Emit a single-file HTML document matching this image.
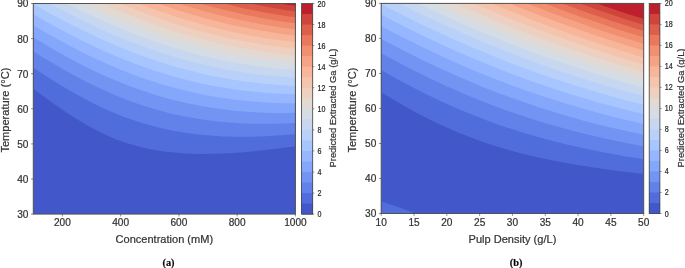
<!DOCTYPE html>
<html><head><meta charset="utf-8"><style>
html,body{margin:0;padding:0;background:#fff;}
body{width:685px;height:268px;overflow:hidden;}
svg{display:block;will-change:transform;}
text{font-family:"Liberation Sans", sans-serif;fill:#333333;stroke:#333333;stroke-width:0.22px;}
.tk{font-size:10.1px;}
.lab{font-size:11.3px;}
.ylab{font-size:11.4px;}
.cbt{font-size:8.4px;fill:#1a1a1a;}
.cbl{font-size:9.9px;}
.cap{font-family:"Liberation Serif",serif;font-weight:bold;font-size:10.3px;fill:#000;}
</style></head><body>
<svg width="685" height="268" viewBox="0 0 685 268">
<rect width="685" height="268" fill="#fff"/>
<clipPath id="ca"><rect x="33.3" y="3.5" width="262.10" height="210.60"/></clipPath>
<g clip-path="url(#ca)"><rect x="32.30" y="2.50" width="264.10" height="212.60" fill="#4257c9"/>
<path d="M33 2.5L296.4 2.5 296.4 146.1 278.5 148.6 261.3 150.6 244.8 152.2 229.5 153.2 214.3 153.8 200.4 153.9 193.8 153.8 187.2 153.5 181.2 153.2 174.6 152.6 168.7 152 163.4 151.4 158.1 150.6 152.1 149.6 146.8 148.5 141.5 147.3 136.9 146.1 131.6 144.6 126.3 142.9 121.7 141.3 116.4 139.4 111.7 137.5 107.1 135.4 101.8 133 96.5 130.3 91.2 127.5 85.3 124.2 78.6 120.2 71.4 115.7 64.1 110.9 56.1 105.4 48.8 100.2 40.9 94.4 32.3 87.9 32.3 2.5Z" fill="#516ddb"/>
<path d="M33 2.5L296.4 2.5 296.4 133.9 281.2 135.3 266 136.2 251.4 136.7 237.5 136.7 223.6 136.4 210.4 135.6 197.8 134.4 191.2 133.6 185.2 132.7 173.3 130.7 167.3 129.5 161.4 128.2 150.1 125.3 138.9 122 127.6 118.2 121.7 115.9 115.7 113.5 104.4 108.7 93.2 103.3 85.9 99.6 78.6 95.6 71.4 91.5 64.1 87.3 56.8 82.8 48.2 77.4 40.2 72.2 32.3 66.9 32.3 2.5Z" fill="#6282ea"/>
<path d="M33 2.5L296.4 2.5 296.4 122.9 282.5 123.6 269.3 123.8 256 123.8 242.8 123.4 230.2 122.6 217.6 121.4 205.7 120 193.8 118.1 182.6 116 170.6 113.4 158.7 110.3 147.5 107 136.9 103.5 125.6 99.4 114.4 94.9 102.5 89.6 93.9 85.6 85.3 81.3 76.6 76.8 68 72.1 59.4 67.2 50.8 62.1 42.2 56.9 32.3 50.6 32.3 2.5Z" fill="#7295f4"/>
<path d="M33 2.5L296.4 2.5 296.4 112.7 283.8 112.9 271.9 112.9 260 112.5 248.1 111.8 236.2 110.9 224.9 109.6 213.7 108.1 202.4 106.3 191.2 104.1 179.9 101.6 169.3 98.9 158.7 95.9 148.1 92.6 136.9 88.8 126.3 84.8 115.7 80.5 105.8 76.2 95.8 71.7 85.9 66.9 75.3 61.4 65.4 56.1 54.8 50.2 43.6 43.6 32.3 36.8 32.3 2.5Z" fill="#84a7fc"/>
<path d="M33 2.5L296.4 2.5 296.4 103.3 285.1 103.2 274.6 102.9 263.3 102.3 252.7 101.5 242.1 100.5 231.5 99.2 220.9 97.7 211 96.1 201.1 94.2 191.2 92 180.6 89.5 170.6 86.8 160.7 83.9 150.8 80.8 140.9 77.4 130.3 73.5 118.3 68.7 106.4 63.6 94.5 58.2 82.6 52.4 70.7 46.3 58.1 39.5 45.5 32.4 32.3 24.6 32.3 2.5Z" fill="#96b7ff"/>
<path d="M33 2.5L296.4 2.5 296.4 94.3 286.5 94.1 276.5 93.6 266.6 92.9 257.3 92.1 247.4 91.1 238.2 89.9 228.9 88.6 219.6 87.1 210.4 85.3 201.1 83.4 191.8 81.3 182.6 78.9 173.3 76.4 164.7 73.8 155.4 70.9 146.8 68 134.2 63.4 121 58.2 108.4 52.9 95.2 46.9 81.3 40.2 68 33.5 54.1 26 40.2 18.2 32.3 13.6 32.3 2.5Z" fill="#a7c5fe"/>
<path d="M33 2.5L296.4 2.5 296.4 85.9 287.8 85.5 279.2 85 270.6 84.3 262 83.5 254 82.6 245.4 81.5 236.8 80.3 228.9 79 220.3 77.5 212.3 75.9 204.4 74.2 195.8 72.1 187.8 70.1 179.9 68 171.3 65.5 163.4 63.1 154.8 60.3 146.8 57.5 138.2 54.4 129.6 51.1 121 47.6 112.4 44 103.8 40.3 95.2 36.3 84.6 31.3 74 26.1 63.4 20.6 52.8 14.9 42.9 9.4 32.3 3.4 32.3 2.5Z" fill="#b9d0f9"/>
<path d="M48.2 2.5L296.4 2.5 296.4 77.8 280.5 76.8 272.6 76.1 264.6 75.3 249.4 73.3 241.5 72.1 233.5 70.8 218.3 67.9 203.1 64.6 187.8 60.7 172.6 56.3 157.4 51.5 142.2 46.1 134.2 43.1 126.3 40 110.4 33.4 101.8 29.6 93.9 25.9 77.3 18 67.4 13 56.8 7.4 47.6 2.5Z" fill="#c7d7f0"/>
<path d="M64.7 2.5L296.4 2.5 296.4 70.1 281.8 69 267.3 67.5 252.7 65.5 238.2 63.2 223.6 60.4 209.7 57.4 195.8 53.9 181.2 49.9 166.7 45.4 152.8 40.8 138.2 35.5 124.3 30 109.1 23.6 94.5 17.1 78.6 9.5Z" fill="#d6dce4"/>
<path d="M82.6 2.5L296.4 2.5 296.4 62.8 282.5 61.5 269.3 60 255.4 58.1 242.1 55.9 228.9 53.4 215.6 50.5 202.4 47.3 189.2 43.7 175.3 39.6 162 35.4 148.8 30.8 134.9 25.6 120.3 19.7 105.8 13.5 96.5 9.3 86.6 4.7 82 2.5Z" fill="#e3d9d3"/>
<path d="M99.8 2.5L296.4 2.5 296.4 55.6 283.8 54.4 271.2 52.9 258.7 51.1 246.8 49.1 234.8 46.9 222.3 44.2 210.4 41.4 197.8 38.1 185.9 34.8 173.3 30.9 160.7 26.8 148.8 22.6 135.6 17.6 123 12.6 108.4 6.4 99.6 2.5Z" fill="#eed0c0"/>
<path d="M117.7 2.5L296.4 2.5 296.4 48.8 285.1 47.6 273.9 46.2 262.6 44.5 251.4 42.7 240.1 40.6 228.9 38.2 217.6 35.6 207 33 195.8 30 184.5 26.7 173.3 23.2 162 19.5 150.8 15.5 139.5 11.3 127.6 6.6Z" fill="#f5c4ac"/>
<path d="M136.2 2.5L296.4 2.5 296.4 42.1 285.8 40.9 275.9 39.6 266 38.2 256 36.5 246.1 34.7 236.2 32.7 226.2 30.5 216.3 28.1 206.4 25.6 196.5 22.8 186.5 19.9 176.6 16.9 166.7 13.6 156.1 9.9 145.5 6.1Z" fill="#f7b599"/>
<path d="M155.4 2.5L296.4 2.5 296.4 35.7 287.8 34.7 278.5 33.4 269.9 32.1 260.7 30.6 252.1 29 243.4 27.3 234.8 25.5 225.6 23.4 217 21.3 207.7 18.9 199.1 16.5 190.5 14 181.9 11.4 172.6 8.4 163.4 5.3Z" fill="#f6a385"/>
<path d="M175.9 2.5L296.4 2.5 296.4 29.5 281.2 27.4 266 25 250.7 22.2 235.5 19 220.3 15.4 204.4 11.2 195.8 8.8 187.2 6.2 175.5 2.5Z" fill="#f18f71"/>
<path d="M197.1 2.5L296.4 2.5 296.4 23.4 283.8 21.7 271.2 19.7 258.7 17.4 246.1 14.9 233.5 12.1 220.3 8.9 207 5.4 197.8 2.8 196.9 2.5Z" fill="#e9785d"/>
<path d="M220.3 2.5L296.4 2.5 296.4 17.4 287.1 16.2 277.2 14.6 267.3 12.9 257.3 11 246.8 8.9 236.8 6.7 224.3 3.6 219.8 2.5Z" fill="#dd5f4b"/>
<path d="M245.4 2.5L296.4 2.5 296.4 11.7 283.2 9.7 270.6 7.6 256.7 4.9Z" fill="#cf453c"/>
<path d="M274.6 2.5L296.4 2.5 296.4 6 284.5 4.2Z" fill="#bd1f2d"/></g>
<rect x="33.3" y="3.5" width="262.10" height="210.60" fill="none" stroke="#525252" stroke-width="1.0"/>
<line x1="31.00" y1="214.10" x2="33.30" y2="214.10" stroke="#444" stroke-width="0.6"/>
<text x="28.40" y="218.00" text-anchor="end" class="tk">30</text>
<line x1="31.00" y1="179.00" x2="33.30" y2="179.00" stroke="#444" stroke-width="0.6"/>
<text x="28.40" y="182.90" text-anchor="end" class="tk">40</text>
<line x1="31.00" y1="143.90" x2="33.30" y2="143.90" stroke="#444" stroke-width="0.6"/>
<text x="28.40" y="147.80" text-anchor="end" class="tk">50</text>
<line x1="31.00" y1="108.80" x2="33.30" y2="108.80" stroke="#444" stroke-width="0.6"/>
<text x="28.40" y="112.70" text-anchor="end" class="tk">60</text>
<line x1="31.00" y1="73.70" x2="33.30" y2="73.70" stroke="#444" stroke-width="0.6"/>
<text x="28.40" y="77.60" text-anchor="end" class="tk">70</text>
<line x1="31.00" y1="38.60" x2="33.30" y2="38.60" stroke="#444" stroke-width="0.6"/>
<text x="28.40" y="42.50" text-anchor="end" class="tk">80</text>
<line x1="31.00" y1="3.50" x2="33.30" y2="3.50" stroke="#444" stroke-width="0.6"/>
<text x="28.40" y="7.40" text-anchor="end" class="tk">90</text>
<line x1="62.42" y1="214.10" x2="62.42" y2="216.50" stroke="#444" stroke-width="0.6"/>
<text x="62.42" y="226.30" text-anchor="middle" class="tk">200</text>
<line x1="120.67" y1="214.10" x2="120.67" y2="216.50" stroke="#444" stroke-width="0.6"/>
<text x="120.67" y="226.30" text-anchor="middle" class="tk">400</text>
<line x1="178.91" y1="214.10" x2="178.91" y2="216.50" stroke="#444" stroke-width="0.6"/>
<text x="178.91" y="226.30" text-anchor="middle" class="tk">600</text>
<line x1="237.16" y1="214.10" x2="237.16" y2="216.50" stroke="#444" stroke-width="0.6"/>
<text x="237.16" y="226.30" text-anchor="middle" class="tk">800</text>
<line x1="295.40" y1="214.10" x2="295.40" y2="216.50" stroke="#444" stroke-width="0.6"/>
<text x="295.40" y="226.30" text-anchor="middle" class="tk">1000</text>
<text x="164.35" y="243.0" text-anchor="middle" class="lab" textLength="97.5" lengthAdjust="spacingAndGlyphs">Concentration (mM)</text>
<text transform="translate(8.50,110.1) rotate(-90)" x="0" y="0" text-anchor="middle" class="ylab" textLength="85" lengthAdjust="spacingAndGlyphs">Temperature (°C)</text>
<rect x="301.6" y="3.50" width="11.10" height="210.60" fill="#bd1f2d"/>
<rect x="301.6" y="14.03" width="11.10" height="200.07" fill="#cf453c"/>
<rect x="301.6" y="24.56" width="11.10" height="189.54" fill="#dd5f4b"/>
<rect x="301.6" y="35.09" width="11.10" height="179.01" fill="#e9785d"/>
<rect x="301.6" y="45.62" width="11.10" height="168.48" fill="#f18f71"/>
<rect x="301.6" y="56.15" width="11.10" height="157.95" fill="#f6a385"/>
<rect x="301.6" y="66.68" width="11.10" height="147.42" fill="#f7b599"/>
<rect x="301.6" y="77.21" width="11.10" height="136.89" fill="#f5c4ac"/>
<rect x="301.6" y="87.74" width="11.10" height="126.36" fill="#eed0c0"/>
<rect x="301.6" y="98.27" width="11.10" height="115.83" fill="#e3d9d3"/>
<rect x="301.6" y="108.80" width="11.10" height="105.30" fill="#d6dce4"/>
<rect x="301.6" y="119.33" width="11.10" height="94.77" fill="#c7d7f0"/>
<rect x="301.6" y="129.86" width="11.10" height="84.24" fill="#b9d0f9"/>
<rect x="301.6" y="140.39" width="11.10" height="73.71" fill="#a7c5fe"/>
<rect x="301.6" y="150.92" width="11.10" height="63.18" fill="#96b7ff"/>
<rect x="301.6" y="161.45" width="11.10" height="52.65" fill="#84a7fc"/>
<rect x="301.6" y="171.98" width="11.10" height="42.12" fill="#7295f4"/>
<rect x="301.6" y="182.51" width="11.10" height="31.59" fill="#6282ea"/>
<rect x="301.6" y="193.04" width="11.10" height="21.06" fill="#516ddb"/>
<rect x="301.6" y="203.57" width="11.10" height="10.53" fill="#4257c9"/>
<rect x="301.6" y="3.5" width="11.10" height="210.60" fill="none" stroke="#444" stroke-width="0.8"/>
<line x1="312.70" y1="214.10" x2="314.30" y2="214.10" stroke="#444" stroke-width="0.6"/>
<text transform="translate(317.50,217.10) scale(0.85,1)" class="cbt">0</text>
<line x1="312.70" y1="193.04" x2="314.30" y2="193.04" stroke="#444" stroke-width="0.6"/>
<text transform="translate(317.50,196.04) scale(0.85,1)" class="cbt">2</text>
<line x1="312.70" y1="171.98" x2="314.30" y2="171.98" stroke="#444" stroke-width="0.6"/>
<text transform="translate(317.50,174.98) scale(0.85,1)" class="cbt">4</text>
<line x1="312.70" y1="150.92" x2="314.30" y2="150.92" stroke="#444" stroke-width="0.6"/>
<text transform="translate(317.50,153.92) scale(0.85,1)" class="cbt">6</text>
<line x1="312.70" y1="129.86" x2="314.30" y2="129.86" stroke="#444" stroke-width="0.6"/>
<text transform="translate(317.50,132.86) scale(0.85,1)" class="cbt">8</text>
<line x1="312.70" y1="108.80" x2="314.30" y2="108.80" stroke="#444" stroke-width="0.6"/>
<text transform="translate(317.50,111.80) scale(0.85,1)" class="cbt">10</text>
<line x1="312.70" y1="87.74" x2="314.30" y2="87.74" stroke="#444" stroke-width="0.6"/>
<text transform="translate(317.50,90.74) scale(0.85,1)" class="cbt">12</text>
<line x1="312.70" y1="66.68" x2="314.30" y2="66.68" stroke="#444" stroke-width="0.6"/>
<text transform="translate(317.50,69.68) scale(0.85,1)" class="cbt">14</text>
<line x1="312.70" y1="45.62" x2="314.30" y2="45.62" stroke="#444" stroke-width="0.6"/>
<text transform="translate(317.50,48.62) scale(0.85,1)" class="cbt">16</text>
<line x1="312.70" y1="24.56" x2="314.30" y2="24.56" stroke="#444" stroke-width="0.6"/>
<text transform="translate(317.50,27.56) scale(0.85,1)" class="cbt">18</text>
<line x1="312.70" y1="3.50" x2="314.30" y2="3.50" stroke="#444" stroke-width="0.6"/>
<text transform="translate(317.50,6.50) scale(0.85,1)" class="cbt">20</text>
<text transform="translate(336.30,108.0) rotate(-90)" x="0" y="0" text-anchor="middle" class="cbl" textLength="119" lengthAdjust="spacingAndGlyphs">Predicted Extracted Ga (g/L)</text>
<text x="168.5" y="266.2" text-anchor="middle" class="cap">(a)</text>
<clipPath id="cb"><rect x="381.2" y="3.4" width="262.50" height="210.10"/></clipPath>
<g clip-path="url(#cb)"><rect x="380.20" y="2.40" width="264.50" height="212.10" fill="#4257c9"/>
<path d="M380.9 2.4L644.7 2.4 644.7 174 622.2 171.4 600.3 168.5 580.4 165.5 561.8 162.2 544.6 158.8 536 156.9 527.4 154.9 512.1 150.9 503.5 148.5 496.2 146.3 488.3 143.7 481 141.2 473.7 138.6 466.4 135.8 459.1 132.9 451.8 129.8 438.5 123.8 431.2 120.3 424.6 117 417.3 113.2 410 109.2 402.7 105.1 394.8 100.5 380.2 91.7 380.2 2.4ZM380.8 201.2L390.1 204.3 399.4 207.5 408.7 210.9 418 214.5 380.2 214.5 380.2 201Z" fill="#516ddb"/>
<path d="M380.9 2.4L644.7 2.4 644.7 159.4 624.8 156.2 605.6 152.8 587 149 569.1 145 552.6 141 535.3 136.3 519.4 131.5 503.5 126.4 488.3 121 473 115.1 457.1 108.5 442.5 102 427.9 95.1 412 87 396.1 78.5 380.2 69.6 380.2 2.4Z" fill="#6282ea"/>
<path d="M380.9 2.4L644.7 2.4 644.7 146.6 626.1 143 608.2 139.3 591 135.3 574.4 131.2 557.2 126.5 541.3 121.9 526 117.1 510.1 111.7 494.2 105.9 479 100 463.7 93.7 448.5 87 433.2 80 418 72.5 402.1 64.4 386.2 55.9 380.2 52.6 380.2 2.4Z" fill="#7295f4"/>
<path d="M380.9 2.4L644.7 2.4 644.7 134.9 628.8 131.6 612.9 127.9 598.3 124.4 583 120.4 568.5 116.3 553.2 111.8 538.6 107.2 524.1 102.3 509.5 97.1 495.5 91.9 481.6 86.4 467.7 80.6 453.8 74.6 439.2 68 425.3 61.4 411.4 54.5 396.1 46.7 380.2 38.2 380.2 2.4Z" fill="#84a7fc"/>
<path d="M380.9 2.4L644.7 2.4 644.7 124.3 630.8 121.1 617.5 117.9 604.3 114.5 591.7 111.1 578.4 107.3 565.8 103.6 553.2 99.6 540 95.3 527.4 91 514.8 86.4 502.8 82 490.2 77 477.6 71.9 466.4 67.2 453.8 61.7 441.2 56 425.9 48.8 410.7 41.3 396.1 33.9 380.2 25.5 380.2 2.4Z" fill="#96b7ff"/>
<path d="M380.9 2.4L644.7 2.4 644.7 114.4 622.8 109 611.6 106 600.3 102.9 589 99.7 578.4 96.5 567.1 93.1 556.5 89.7 545.3 85.9 535.3 82.5 524.7 78.7 514.1 74.8 503.5 70.7 492.9 66.6 472.3 58.1 461.1 53.2 449.1 47.9 437.9 42.8 426.6 37.4 415.3 32 403.4 26.1 391.5 20 380.2 14.1 380.2 2.4Z" fill="#a7c5fe"/>
<path d="M380.9 2.4L644.7 2.4 644.7 105 626.8 100.5 609.6 95.8 591.7 90.6 574.4 85.3 557.2 79.7 540 73.7 523.4 67.8 506.2 61.2 488.3 54.1 470.4 46.6 451.8 38.4 433.2 29.9 420.6 23.9 407.4 17.4 394.1 10.7 380.2 3.6 380.2 2.4Z" fill="#b9d0f9"/>
<path d="M397.4 2.4L644.7 2.4 644.7 96.2 628.1 91.8 612.2 87.4 596.3 82.7 581.1 78 565.8 73 550.6 67.8 535.3 62.4 519.4 56.5 504.2 50.6 488.9 44.4 473.7 38.1 457.8 31.1 441.9 24 425.3 16.2 405.4 6.5 397.1 2.4Z" fill="#c7d7f0"/>
<path d="M416 2.4L644.7 2.4 644.7 87.9 630.1 83.9 615.5 79.7 600.9 75.4 586.4 70.8 571.8 66.1 557.9 61.3 543.9 56.4 529.4 51.1 515.4 45.8 500.8 40 486.3 34.1 472.3 28.2 458.4 22.1 443.8 15.5 427.9 8.1Z" fill="#d6dce4"/>
<path d="M434.6 2.4L644.7 2.4 644.7 79.9 630.8 76 617.5 72.1 604.3 68.1 591 63.9 577.1 59.4 564.5 55.1 551.9 50.7 538.6 45.9 526 41.2 512.8 36 499.5 30.7 486.3 25.3 473.7 20 459.7 13.9 445.2 7.3Z" fill="#e3d9d3"/>
<path d="M453.1 2.4L644.7 2.4 644.7 72.2 632.1 68.6 620.2 65.1 607.6 61.2 595.6 57.4 583 53.3 571.1 49.3 547.3 40.8 534.7 36.2 522.1 31.4 498.2 21.9 485.6 16.7 471.7 10.7 453.1 2.6 452.8 2.4Z" fill="#eed0c0"/>
<path d="M471 2.4L644.7 2.4 644.7 64.8 622.8 58.4 600.3 51.3 578.4 44.1 557.2 36.6 535.3 28.6 513.4 20.1 490.2 10.6 476.3 4.8Z" fill="#f5c4ac"/>
<path d="M488.9 2.4L644.7 2.4 644.7 57.7 625.5 52 605.6 45.7 586.4 39.4 566.5 32.5 546.6 25.3 527.4 18 506.8 9.8Z" fill="#f7b599"/>
<path d="M506.8 2.4L644.7 2.4 644.7 50.8 626.8 45.4 609.6 40 591.7 34 574.4 28.1 557.2 21.9 539.3 15.3 519.4 7.6 506.6 2.4Z" fill="#f6a385"/>
<path d="M524.7 2.4L644.7 2.4 644.7 44.2 628.8 39.3 613.5 34.4 598.3 29.4 582.4 24 565.8 18.1 549.2 12 526.7 3.4 524.2 2.4Z" fill="#f18f71"/>
<path d="M541.9 2.4L644.7 2.4 644.7 37.7 631.4 33.6 618.2 29.4 605.6 25.2 592.3 20.7 578.4 15.9 564.5 10.9 547.9 4.8 541.7 2.4Z" fill="#e9785d"/>
<path d="M559.2 2.4L644.7 2.4 644.7 31.4 623.5 24.7 601.6 17.5 579.7 9.9Z" fill="#dd5f4b"/>
<path d="M577.1 2.4L644.7 2.4 644.7 25.2 625.5 19.2 606.3 12.8 581.7 4.3 576.5 2.4Z" fill="#cf453c"/>
<path d="M594.3 2.4L644.7 2.4 644.7 19.3 629.5 14.4 614.2 9.4 593.8 2.4Z" fill="#bd1f2d"/></g>
<rect x="381.2" y="3.4" width="262.50" height="210.10" fill="none" stroke="#525252" stroke-width="1.0"/>
<line x1="378.90" y1="213.50" x2="381.20" y2="213.50" stroke="#444" stroke-width="0.6"/>
<text x="376.30" y="217.40" text-anchor="end" class="tk">30</text>
<line x1="378.90" y1="178.48" x2="381.20" y2="178.48" stroke="#444" stroke-width="0.6"/>
<text x="376.30" y="182.38" text-anchor="end" class="tk">40</text>
<line x1="378.90" y1="143.47" x2="381.20" y2="143.47" stroke="#444" stroke-width="0.6"/>
<text x="376.30" y="147.37" text-anchor="end" class="tk">50</text>
<line x1="378.90" y1="108.45" x2="381.20" y2="108.45" stroke="#444" stroke-width="0.6"/>
<text x="376.30" y="112.35" text-anchor="end" class="tk">60</text>
<line x1="378.90" y1="73.43" x2="381.20" y2="73.43" stroke="#444" stroke-width="0.6"/>
<text x="376.30" y="77.33" text-anchor="end" class="tk">70</text>
<line x1="378.90" y1="38.42" x2="381.20" y2="38.42" stroke="#444" stroke-width="0.6"/>
<text x="376.30" y="42.32" text-anchor="end" class="tk">80</text>
<line x1="378.90" y1="3.40" x2="381.20" y2="3.40" stroke="#444" stroke-width="0.6"/>
<text x="376.30" y="7.30" text-anchor="end" class="tk">90</text>
<line x1="381.20" y1="213.50" x2="381.20" y2="215.90" stroke="#444" stroke-width="0.6"/>
<text x="381.20" y="225.70" text-anchor="middle" class="tk">10</text>
<line x1="414.01" y1="213.50" x2="414.01" y2="215.90" stroke="#444" stroke-width="0.6"/>
<text x="414.01" y="225.70" text-anchor="middle" class="tk">15</text>
<line x1="446.82" y1="213.50" x2="446.82" y2="215.90" stroke="#444" stroke-width="0.6"/>
<text x="446.82" y="225.70" text-anchor="middle" class="tk">20</text>
<line x1="479.64" y1="213.50" x2="479.64" y2="215.90" stroke="#444" stroke-width="0.6"/>
<text x="479.64" y="225.70" text-anchor="middle" class="tk">25</text>
<line x1="512.45" y1="213.50" x2="512.45" y2="215.90" stroke="#444" stroke-width="0.6"/>
<text x="512.45" y="225.70" text-anchor="middle" class="tk">30</text>
<line x1="545.26" y1="213.50" x2="545.26" y2="215.90" stroke="#444" stroke-width="0.6"/>
<text x="545.26" y="225.70" text-anchor="middle" class="tk">35</text>
<line x1="578.08" y1="213.50" x2="578.08" y2="215.90" stroke="#444" stroke-width="0.6"/>
<text x="578.08" y="225.70" text-anchor="middle" class="tk">40</text>
<line x1="610.89" y1="213.50" x2="610.89" y2="215.90" stroke="#444" stroke-width="0.6"/>
<text x="610.89" y="225.70" text-anchor="middle" class="tk">45</text>
<line x1="643.70" y1="213.50" x2="643.70" y2="215.90" stroke="#444" stroke-width="0.6"/>
<text x="643.70" y="225.70" text-anchor="middle" class="tk">50</text>
<text x="512.45" y="243.0" text-anchor="middle" class="lab" textLength="87.8" lengthAdjust="spacingAndGlyphs">Pulp Density (g/L)</text>
<text transform="translate(356.40,110.1) rotate(-90)" x="0" y="0" text-anchor="middle" class="ylab" textLength="85" lengthAdjust="spacingAndGlyphs">Temperature (°C)</text>
<rect x="649.2" y="3.40" width="10.70" height="210.10" fill="#bd1f2d"/>
<rect x="649.2" y="13.91" width="10.70" height="199.59" fill="#cf453c"/>
<rect x="649.2" y="24.41" width="10.70" height="189.09" fill="#dd5f4b"/>
<rect x="649.2" y="34.92" width="10.70" height="178.58" fill="#e9785d"/>
<rect x="649.2" y="45.42" width="10.70" height="168.08" fill="#f18f71"/>
<rect x="649.2" y="55.93" width="10.70" height="157.57" fill="#f6a385"/>
<rect x="649.2" y="66.43" width="10.70" height="147.07" fill="#f7b599"/>
<rect x="649.2" y="76.94" width="10.70" height="136.56" fill="#f5c4ac"/>
<rect x="649.2" y="87.44" width="10.70" height="126.06" fill="#eed0c0"/>
<rect x="649.2" y="97.94" width="10.70" height="115.56" fill="#e3d9d3"/>
<rect x="649.2" y="108.45" width="10.70" height="105.05" fill="#d6dce4"/>
<rect x="649.2" y="118.95" width="10.70" height="94.55" fill="#c7d7f0"/>
<rect x="649.2" y="129.46" width="10.70" height="84.04" fill="#b9d0f9"/>
<rect x="649.2" y="139.97" width="10.70" height="73.53" fill="#a7c5fe"/>
<rect x="649.2" y="150.47" width="10.70" height="63.03" fill="#96b7ff"/>
<rect x="649.2" y="160.97" width="10.70" height="52.53" fill="#84a7fc"/>
<rect x="649.2" y="171.48" width="10.70" height="42.02" fill="#7295f4"/>
<rect x="649.2" y="181.99" width="10.70" height="31.51" fill="#6282ea"/>
<rect x="649.2" y="192.49" width="10.70" height="21.01" fill="#516ddb"/>
<rect x="649.2" y="203.00" width="10.70" height="10.50" fill="#4257c9"/>
<rect x="649.2" y="3.4" width="10.70" height="210.10" fill="none" stroke="#444" stroke-width="0.8"/>
<line x1="659.90" y1="213.50" x2="661.50" y2="213.50" stroke="#444" stroke-width="0.6"/>
<text transform="translate(664.70,216.50) scale(0.85,1)" class="cbt">0</text>
<line x1="659.90" y1="192.49" x2="661.50" y2="192.49" stroke="#444" stroke-width="0.6"/>
<text transform="translate(664.70,195.49) scale(0.85,1)" class="cbt">2</text>
<line x1="659.90" y1="171.48" x2="661.50" y2="171.48" stroke="#444" stroke-width="0.6"/>
<text transform="translate(664.70,174.48) scale(0.85,1)" class="cbt">4</text>
<line x1="659.90" y1="150.47" x2="661.50" y2="150.47" stroke="#444" stroke-width="0.6"/>
<text transform="translate(664.70,153.47) scale(0.85,1)" class="cbt">6</text>
<line x1="659.90" y1="129.46" x2="661.50" y2="129.46" stroke="#444" stroke-width="0.6"/>
<text transform="translate(664.70,132.46) scale(0.85,1)" class="cbt">8</text>
<line x1="659.90" y1="108.45" x2="661.50" y2="108.45" stroke="#444" stroke-width="0.6"/>
<text transform="translate(664.70,111.45) scale(0.85,1)" class="cbt">10</text>
<line x1="659.90" y1="87.44" x2="661.50" y2="87.44" stroke="#444" stroke-width="0.6"/>
<text transform="translate(664.70,90.44) scale(0.85,1)" class="cbt">12</text>
<line x1="659.90" y1="66.43" x2="661.50" y2="66.43" stroke="#444" stroke-width="0.6"/>
<text transform="translate(664.70,69.43) scale(0.85,1)" class="cbt">14</text>
<line x1="659.90" y1="45.42" x2="661.50" y2="45.42" stroke="#444" stroke-width="0.6"/>
<text transform="translate(664.70,48.42) scale(0.85,1)" class="cbt">16</text>
<line x1="659.90" y1="24.41" x2="661.50" y2="24.41" stroke="#444" stroke-width="0.6"/>
<text transform="translate(664.70,27.41) scale(0.85,1)" class="cbt">18</text>
<line x1="659.90" y1="3.40" x2="661.50" y2="3.40" stroke="#444" stroke-width="0.6"/>
<text transform="translate(664.70,6.40) scale(0.85,1)" class="cbt">20</text>
<text transform="translate(683.50,108.0) rotate(-90)" x="0" y="0" text-anchor="middle" class="cbl" textLength="119" lengthAdjust="spacingAndGlyphs">Predicted Extracted Ga (g/L)</text>
<text x="516.1" y="266.2" text-anchor="middle" class="cap">(b)</text>
</svg>
</body></html>
